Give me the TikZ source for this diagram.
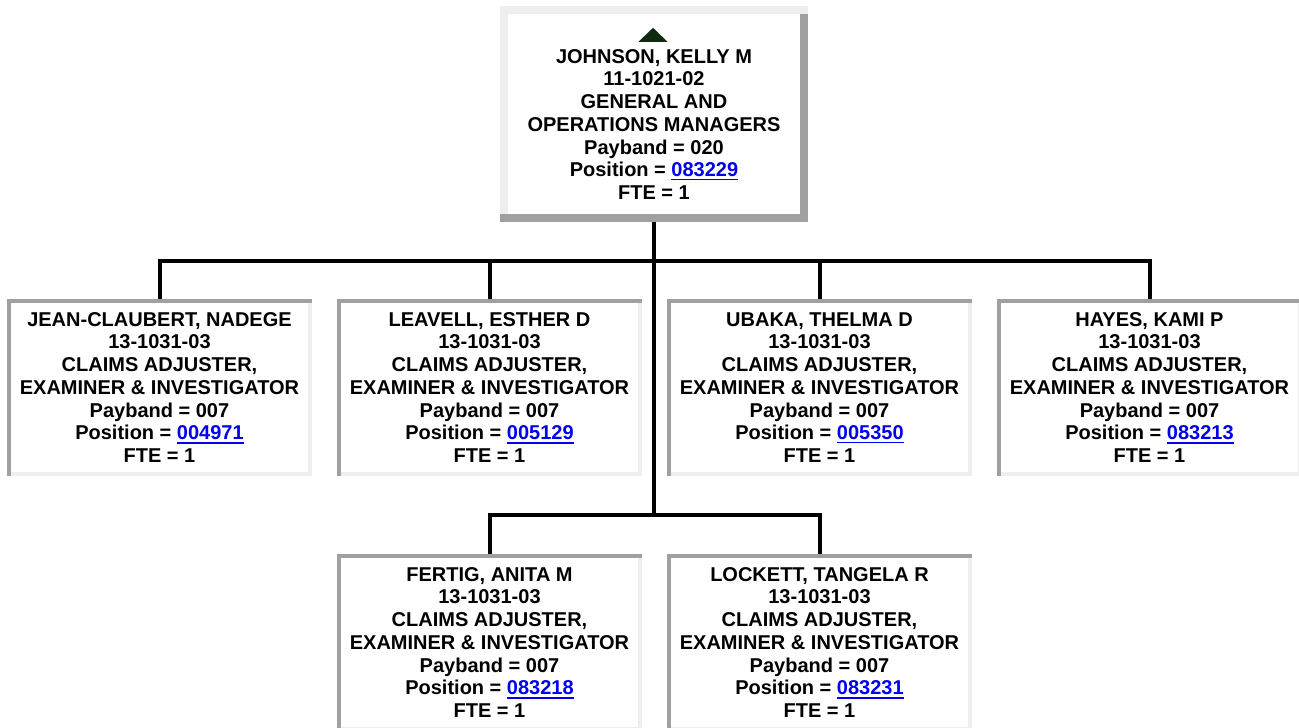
\documentclass[tikz,border=0pt]{standalone}
\usepackage{fontspec}
\setmainfont{Liberation Sans}
\usetikzlibrary{calc}
\definecolor{lt}{RGB}{238,238,238}
\definecolor{dk}{RGB}{160,160,160}
\definecolor{lnkblue}{RGB}{0,0,238}
\definecolor{tri}{RGB}{16,42,16}
\newcommand{\poslink}[1]{{\color{lnkblue}\setbox0\hbox{#1}\rlap{\rule[-3.6pt]{\wd0}{1.8pt}}\box0}}
\newcommand{\childframe}[1]{%
  \fill[dk] (#1.north west) rectangle ($(#1.north east)+(0,4)$);
  \fill[dk] (#1.north west) rectangle ($(#1.south west)+(4,0)$);
  \fill[lt] ($(#1.north east)+(-4,4)$) rectangle (#1.south east);
  \fill[lt] ($(#1.south west)+(4,-4)$) rectangle (#1.south east);
}
\newcommand{\topframe}[1]{%
  \fill[lt] (#1.north west) rectangle ($(#1.north east)+(0,8)$);
  \fill[dk] ($(#1.south west)+(0,-8)$) rectangle (#1.south east);
  \fill[lt] ($(#1.north west)+(0,8)$) rectangle ($(#1.south west)+(8,-8)$);
  \fill[dk] ($(#1.north east)+(-8,8)$) rectangle ($(#1.south east)+(0,-8)$);
}
\tikzset{
  box/.style={rectangle, fill=white, inner sep=0pt, align=center,
    font=\bfseries\fontsize{20}{22.75}\selectfont},
  childbox/.style={box, minimum width=305pt, minimum height=177pt},
  conn/.style={line width=4pt, line join=miter, draw=black}
}
\begin{document}
\begin{tikzpicture}[x=1pt,y=-1pt]
\path[use as bounding box] (0,0) rectangle (1299,728);
\clip (0,0) rectangle (1299,728);
\fill[white] (0,0) rectangle (1299,728);

% nodes
\node[box, minimum width=308pt, minimum height=216pt] (top) at (654,114)
  {\rule{0pt}{14pt}\\[-2pt]JOHNSON, KELLY M\\11-1021-02\\GENERAL AND\\OPERATIONS MANAGERS\\Payband = 020\\Position = \poslink{083229}\\FTE = 1};
\node[childbox] (c1) at (159.5,387.5)
  {JEAN-CLAUBERT, NADEGE\\13-1031-03\\CLAIMS ADJUSTER,\\EXAMINER \& INVESTIGATOR\\Payband = 007\\Position = \poslink{004971}\\FTE = 1};
\node[childbox] (c2) at (489.5,387.5)
  {LEAVELL, ESTHER D\\13-1031-03\\CLAIMS ADJUSTER,\\EXAMINER \& INVESTIGATOR\\Payband = 007\\Position = \poslink{005129}\\FTE = 1};
\node[childbox] (c3) at (819.5,387.5)
  {UBAKA, THELMA D\\13-1031-03\\CLAIMS ADJUSTER,\\EXAMINER \& INVESTIGATOR\\Payband = 007\\Position = \poslink{005350}\\FTE = 1};
\node[childbox] (c4) at (1149.5,387.5)
  {HAYES, KAMI P\\13-1031-03\\CLAIMS ADJUSTER,\\EXAMINER \& INVESTIGATOR\\Payband = 007\\Position = \poslink{083213}\\FTE = 1};
\node[childbox] (c5) at (489.5,642.5)
  {FERTIG, ANITA M\\13-1031-03\\CLAIMS ADJUSTER,\\EXAMINER \& INVESTIGATOR\\Payband = 007\\Position = \poslink{083218}\\FTE = 1};
\node[childbox] (c6) at (819.5,642.5)
  {LOCKETT, TANGELA R\\13-1031-03\\CLAIMS ADJUSTER,\\EXAMINER \& INVESTIGATOR\\Payband = 007\\Position = \poslink{083231}\\FTE = 1};

% frames
\topframe{top}
\childframe{c1}
\childframe{c2}
\childframe{c3}
\childframe{c4}
\childframe{c5}
\childframe{c6}

% triangle
\fill[tri] ($(top.north)+(-15.5,36)$) -- ($(top.north)+(13.5,36)$) -- ($(top.north)+(-1,22)$) -- cycle;

% connectors
\coordinate (bus1) at (654,261);
\coordinate (bus2) at (654,514.5);
\draw[conn] (top.south) -- (bus1);
\draw[conn] (c1.north) -- (c1.north |- bus1) -- (c4.north |- bus1) -- (c4.north);
\draw[conn] (c2.north) -- (c2.north |- bus1);
\draw[conn] (c3.north) -- (c3.north |- bus1);
\draw[conn] (bus1) -- (bus2);
\draw[conn] (c5.north) -- (c5.north |- bus2) -- (c6.north |- bus2) -- (c6.north);
\end{tikzpicture}
\end{document}
